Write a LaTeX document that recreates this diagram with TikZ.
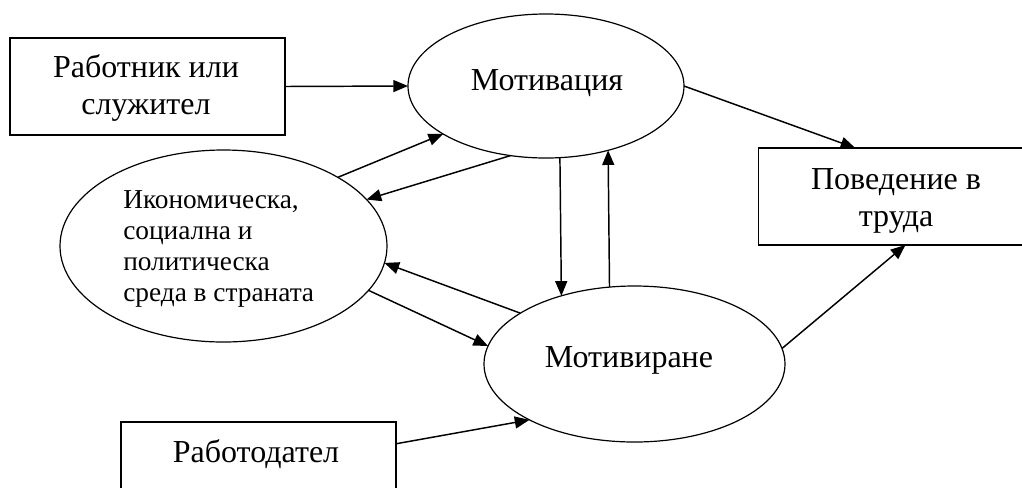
\documentclass[tikz,border=0pt]{standalone}
\usepackage{fontspec}
\setmainfont{Liberation Serif}
\usetikzlibrary{arrows.meta,shapes.geometric}
\begin{document}
\begin{tikzpicture}[x=0.75pt,y=-0.75pt,
  conn/.style={draw=black,line width=1.1pt,-{Triangle[length=11pt,width=9pt]}},
  boxnode/.style={draw=black,line width=1.1pt,minimum width=206.25pt,minimum height=72.75pt,inner sep=0pt,outer sep=0pt},
  ellnode/.style={ellipse,draw=black,line width=0.9pt,inner sep=0pt,outer sep=0pt},
  bigtxt/.style={inner sep=0pt,font=\fontsize{24pt}{27.75pt}\selectfont,align=center},
  smalltxt/.style={inner sep=0pt,font=\fontsize{20.5pt}{23.25pt}\selectfont,align=left}]
\path[use as bounding box] (0,0) rectangle (1022,487);
\clip (0,0) rectangle (1022,487);
% shapes
\node[boxnode] (rab) at (147.5,86.5) {};
\node[boxnode] (pov) at (896,196.5) {};
\node[boxnode] (emp) at (258.5,470.5) {};
\node[ellnode,minimum width=207pt,minimum height=108pt] (mot) at (546,86) {};
\node[ellnode,minimum width=245.25pt,minimum height=144pt] (eco) at (223.5,246) {};
\node[ellnode,minimum width=225.75pt,minimum height=117pt] (mov) at (634.5,364) {};
% texts
\node[bigtxt] (rabt) at (146,88) {Работник или\\служител};
\node[bigtxt] (povt) at (896,200.5) {Поведение в\\труда};
\node[bigtxt,anchor=base] (empt) at (256,462) {Работодател};
\node[bigtxt,anchor=base] (mott) at (547,90) {Мотивация};
\node[bigtxt,anchor=base] (movt) at (629,367) {Мотивиране};
\node[smalltxt,anchor=west] (ecot) at (123,249) {Икономическа,\\социална и\\политическа\\среда в страната};
% connectors
\draw[conn] (rab.east) -- (mot.west);
\draw[conn] (eco.31) -- (mot.205.4);
\draw[conn] (mot.243.4) -- (eco.18.5);
\draw[conn] (mot.281.06) -- (mov.137.7);
\draw[conn] (mov.108.35) -- (mot.314.5);
\draw[conn] (mov.156.2) -- (eco.354.4);
\draw[conn] (eco.343.1) -- (mov.173.3);
\draw[conn] (emp.11.2) -- (mov.208.4);
\draw[conn] (mot.east) -- (pov.130.2);
\draw[conn] (mov.6.5) -- (pov.281.7);
\end{tikzpicture}
\end{document}
